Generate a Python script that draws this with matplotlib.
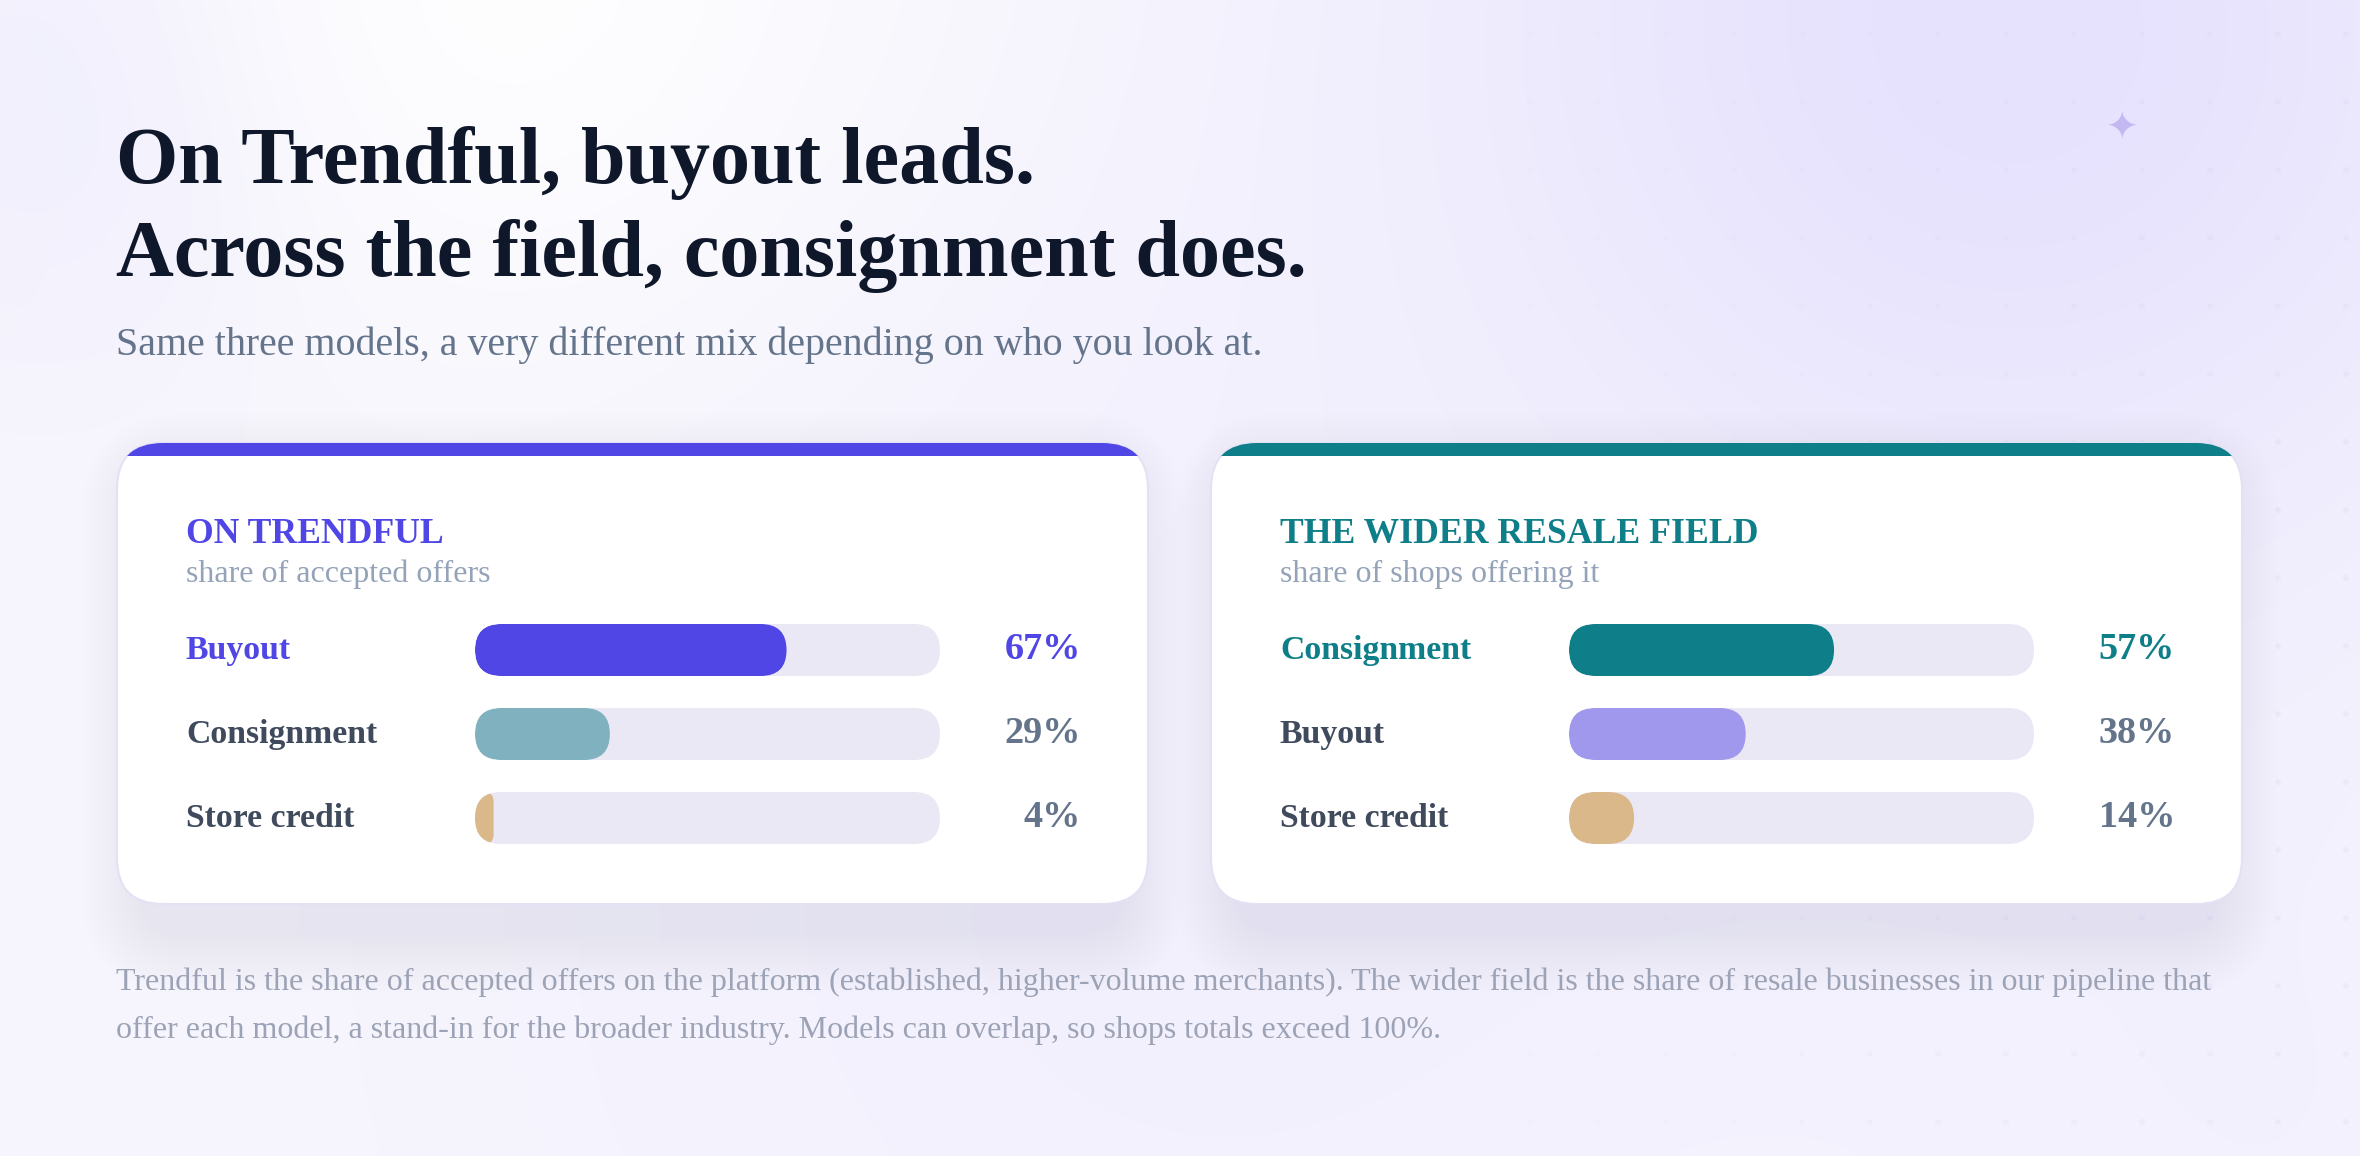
import numpy as np
import matplotlib
matplotlib.use("Agg")
import matplotlib.pyplot as plt
from matplotlib.patches import FancyBboxPatch, Rectangle
from matplotlib import transforms

W, H = 2360, 1156
SERIF = "Liberation Serif"

# ---- data ----
title_lines = ["On Trendful, buyout leads.", "Across the field, consignment does."]
subtitle = "Same three models, a very different mix depending on who you look at."

trendful_labels = ["Buyout", "Consignment", "Store credit"]
trendful_values = [67, 29, 4]
field_labels = ["Consignment", "Buyout", "Store credit"]
field_values = [57, 38, 14]

footnote_lines = [
    "Trendful is the share of accepted offers on the platform (established, higher-volume merchants). "
    "The wider field is the share of resale businesses in our pipeline that",
    "offer each model, a stand-in for the broader industry. Models can overlap, so shops totals exceed 100%.",
]

cards = [
    dict(head="ON TRENDFUL", sub="share of accepted offers", accent="#4f46e5",
         labels=trendful_labels, values=trendful_values,
         fills=["#4f46e5", "#7fb1be", "#dbb88a"], x=117),
    dict(head="THE WIDER RESALE FIELD", sub="share of shops offering it", accent="#0e7e88",
         labels=field_labels, values=field_values,
         fills=["#0e7e88", "#9f98ec", "#dbb88a"], x=1211),
]

TRACK = "#ebe8f5"
LABEL_DARK = "#3f4a5c"
VALUE_GRAY = "#64748b"


def background():
    yy, xx = np.mgrid[0:H, 0:W].astype(float)
    base = np.array([247, 246, 253], float) / 255
    img = np.ones((H, W, 3)) * base

    def glow(cx, cy, r, col, strength):
        col = np.array(col, float) / 255
        w = strength * np.exp(-(((xx - cx) ** 2 + (yy - cy) ** 2) / r ** 2))
        return w[..., None], col

    for cx, cy, r, col, s in [
        (2000, 40, 600, (229, 224, 254), 0.95),
        (120, 90, 260, (232, 230, 252), 0.7),
        (520, 0, 420, (255, 255, 255), 0.9),
        (1200, 900, 700, (238, 235, 253), 0.5),
        (2300, 1150, 500, (240, 237, 253), 0.5),
    ]:
        w, c = glow(cx, cy, r, col, s)
        img = img * (1 - w) + c * w
    return img


fig = plt.figure(figsize=(W / 100, H / 100), dpi=100)
bg = fig.add_axes([0, 0, 1, 1])
bg.imshow(background(), extent=(0, W, H, 0), zorder=0, interpolation="bilinear")
bg.set_xlim(0, W)
bg.set_ylim(H, 0)
bg.set_aspect("auto")
bg.axis("off")

# faint dot grid on the right
dx = np.arange(1530, W, 68)
dy = np.arange(34, H, 68)
gx, gy = np.meshgrid(dx, dy)
alpha = np.clip((gx - 1350) / 900, 0, 1).ravel() * 0.16
cols = np.zeros((gx.size, 4))
cols[:, :3] = np.array([200, 195, 240]) / 255
cols[:, 3] = alpha
bg.scatter(gx.ravel(), gy.ravel(), s=18, c=cols, linewidths=0, zorder=1)

# sparkle
bg.text(2122, 128, "\u2726", fontsize=28, color="#c3b8f1", ha="center", va="center",
        family="DejaVu Sans", zorder=2)

# title + subtitle
bg.text(116, 183, title_lines[0], fontsize=57.7, fontweight="bold", family=SERIF,
        color="#0f172a", va="baseline", zorder=3)
bg.text(116, 276, title_lines[1], fontsize=57.7, fontweight="bold", family=SERIF,
        color="#0f172a", va="baseline", zorder=3)
bg.text(116, 355, subtitle, fontsize=28.8, family=SERIF, color="#64748b",
        va="baseline", zorder=3)

CARD_W, CARD_Y, CARD_H = 1031, 443, 461
RADIUS = 46
TRACK_X, TRACK_W = 358, 465
ROW_Y0, ROW_STEP = 650, 84
BAR_H = 52

for card in cards:
    cx = card["x"]
    # soft lavender shadow, pushed down and pulled in at the sides
    for k in range(16):
        grow = k * 4
        sh = FancyBboxPatch((cx + 24 - grow, CARD_Y + 30 - grow), CARD_W - 48 + 2 * grow,
                            CARD_H + 2 * grow,
                            boxstyle="round,pad=0,rounding_size=%d" % (RADIUS + grow),
                            fc="#5b4ff0", ec="none", alpha=0.0042, zorder=2)
        bg.add_patch(sh)
    body = FancyBboxPatch((cx, CARD_Y), CARD_W, CARD_H,
                          boxstyle="round,pad=0,rounding_size=%d" % RADIUS,
                          fc="white", ec="#e4e1f5", lw=1.5, zorder=3)
    bg.add_patch(body)
    stripe = Rectangle((cx, CARD_Y), CARD_W, 13, fc=card["accent"], ec="none", zorder=4)
    stripe.set_clip_path(body)
    bg.add_patch(stripe)

    bg.text(cx + 69, 543, card["head"], fontsize=25.7, fontweight="bold", family=SERIF,
            color=card["accent"], va="baseline", zorder=5)
    bg.text(cx + 69, 582, card["sub"], fontsize=23, family=SERIF, color="#94a3b8",
            va="baseline", zorder=5)

    # bar axes: x in percent, y in row index
    n = len(card["values"])
    top = ROW_Y0 - ROW_STEP / 2
    bot = top + n * ROW_STEP
    ax = fig.add_axes([(cx + TRACK_X) / W, 1 - bot / H, TRACK_W / W, (bot - top) / H])
    ax.set_xlim(0, 100)
    ax.set_ylim(n - 0.5, -0.5)
    ax.axis("off")
    ax.patch.set_visible(False)

    px_x = TRACK_W / 100.0
    px_y = ROW_STEP
    asp = px_x / px_y
    bh = BAR_H / ROW_STEP
    r_full = (BAR_H / 2) / px_x

    label_tf = transforms.blended_transform_factory(bg.transData, ax.transData)
    for i, (lab, val, fc) in enumerate(zip(card["labels"], card["values"], card["fills"])):
        track = FancyBboxPatch((0, i - bh / 2), 100, bh,
                               boxstyle="round,pad=0,rounding_size=%f" % r_full,
                               mutation_aspect=asp, fc=TRACK, ec="none", zorder=1)
        ax.add_patch(track)
        rs = min(r_full, val / 2.0)
        fill = FancyBboxPatch((0, i - bh / 2), val, bh,
                              boxstyle="round,pad=0,rounding_size=%f" % rs,
                              mutation_aspect=asp, fc=fc, ec="none", zorder=2)
        fill.set_clip_path(track)
        ax.add_patch(fill)

        lead = i == 0
        bg.text(cx + 69, i + 9 / ROW_STEP, lab, transform=label_tf, fontsize=24.3,
                fontweight="bold", family=SERIF, color=card["accent"] if lead else LABEL_DARK,
                va="baseline", zorder=5)
        bg.text(cx + 964, i + 9 / ROW_STEP, "%d%%" % val, transform=label_tf, fontsize=27.5,
                fontweight="bold", family=SERIF, color=card["accent"] if lead else VALUE_GRAY,
                va="baseline", ha="right", zorder=5)

# footnote
for j, line in enumerate(footnote_lines):
    bg.text(116, 990 + 48 * j, line, fontsize=23, family=SERIF, color="#9ca3b6",
            va="baseline", zorder=3)

fig.savefig("out.png", dpi=100)
